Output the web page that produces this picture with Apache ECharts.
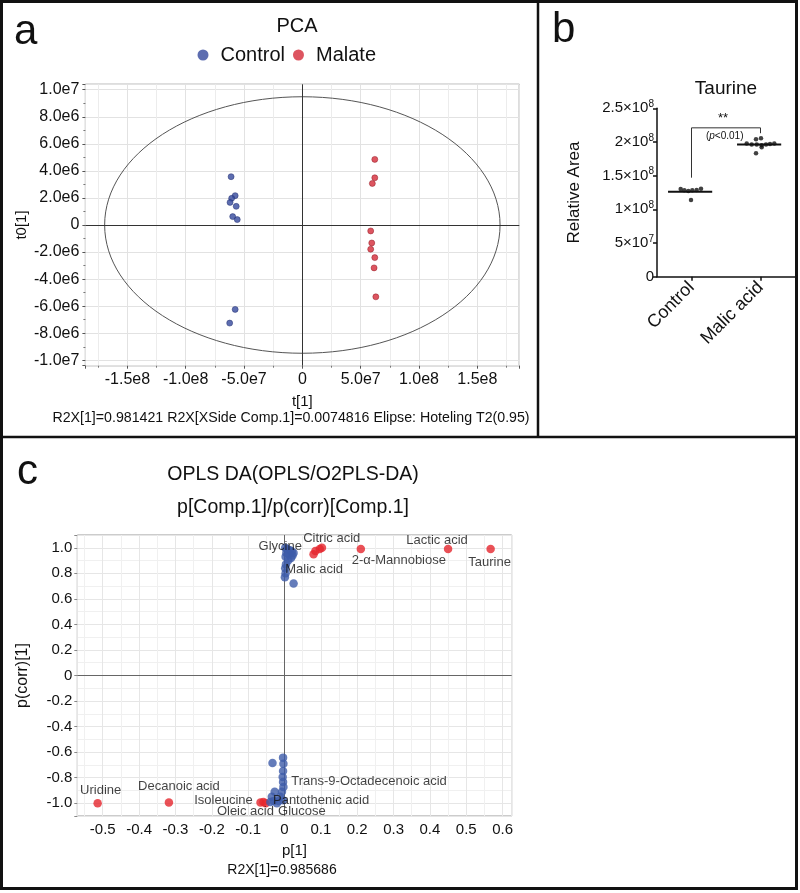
<!DOCTYPE html>
<html>
<head>
<meta charset="utf-8">
<script src="https://cdn.jsdelivr.net/npm/echarts@6/dist/echarts.min.js"></script>
<style>html,body{margin:0;padding:0;background:#fff}#chart{width:800px;height:893px}</style>
</head>
<body>
<div id="chart"></div>
<script>
// ---------- Panel a: PCA scores ----------
const pcaControlX = [-6.11e7, -5.76e7, -6.06e7, -6.20e7, -5.67e7, -5.97e7, -5.58e7, -5.76e7, -6.23e7];
const pcaControlY = [3.57e6, 2.17e6, 1.97e6, 1.67e6, 1.38e6, 0.62e6, 0.40e6, -6.24e6, -7.25e6];
const pcaMalateX = [6.21e7, 6.21e7, 6.00e7, 5.86e7, 5.95e7, 5.86e7, 6.21e7, 6.15e7, 6.30e7];
const pcaMalateY = [4.85e6, 3.49e6, 3.07e6, -0.44e6, -1.33e6, -1.79e6, -2.41e6, -3.17e6, -5.31e6];
// Hotelling T2 ellipse: centre x, centre y, semi-axis x, semi-axis y
const hotellingEllipse = [0, 0, 1.695e8, 9.48e6];

// ---------- Panel b: Taurine ----------
const taurineGroups = ['Control', 'Malic acid'];
const taurineControl = [1.303e8, 1.283e8, 1.273e8, 1.283e8, 1.288e8, 1.307e8, 1.139e8];
const taurineControlJitter = [-0.157, -0.104, -0.046, 0.012, 0.075, 0.138, -0.007];
const taurineMalic = [2.041e8, 2.056e8, 1.976e8, 1.961e8, 1.961e8, 1.952e8, 1.961e8, 1.971e8, 1.976e8, 1.922e8, 1.833e8];
const taurineMalicJitter = [-0.065, 0.007, -0.200, -0.128, -0.055, 0.017, 0.080, 0.138, 0.200, 0.017, -0.065];
const taurineMeans = [1.262e8, 1.962e8];
const bracketX = [0, 0, 1, 1];
const bracketY = [1.47e8, 2.21e8, 2.21e8, 2.13e8];

// ---------- Panel c: OPLS-DA S-plot ----------
const oplsRedX = [0.080, 0.085, 0.097, 0.103, 0.210, 0.450, 0.567, -0.514, -0.318, -0.066, -0.058, -0.052];
const oplsRedY = [0.950, 0.975, 0.990, 1.000, 0.990, 0.990, 0.990, -1.000, -0.995, -0.995, -0.990, -1.000];
const oplsRedNames = ['', '', 'Citric acid', '', '2-α-Mannobiose', 'Lactic acid', 'Taurine', 'Uridine', 'Decanoic acid', 'Isoleucine', 'Oleic acid', ''];
const oplsBlueX = [0.002, 0.008, 0.015, 0.020, 0.005, 0.012, 0.022, 0.018, 0.003, 0.010, 0.004, 0.002, 0.003, 0.001, 0.025, 0.025,
  -0.033, -0.004, -0.003, -0.004, -0.005, -0.004, -0.003, -0.007, -0.012, -0.027, -0.035, -0.030, -0.016, -0.004, -0.021, -0.039];
const oplsBlueY = [1.000, 0.990, 0.980, 0.970, 0.960, 0.950, 0.940, 0.920, 0.930, 0.900, 0.870, 0.840, 0.800, 0.770, 0.720, 0.960,
  -0.685, -0.643, -0.690, -0.748, -0.794, -0.833, -0.873, -0.911, -0.950, -0.911, -0.950, -0.982, -0.982, -0.977, -1.000, -0.990];
const oplsBlueNames = ['Glycine', '', '', '', '', '', '', '', '', 'Malic acid', '', '', '', '', '', '',
  '', '', '', '', '', 'Trans-9-Octadecenoic acid', '', '', '', '', '', '', '', 'Pantothenic acid', 'Glucose', ''];

// label placement (pixel offsets from the point, style only)
const labelOffset = {
  'Glycine': [-5, -1], 'Malic acid': [26, 9], 'Citric acid': [12, -11], '2-α-Mannobiose': [38, 11],
  'Lactic acid': [-11, -9], 'Taurine': [-1, 13], 'Uridine': [3, -13], 'Decanoic acid': [10, -16],
  'Isoleucine': [-37, -2], 'Oleic acid': [-18, 9], 'Pantothenic acid': [38, 0], 'Glucose': [25, 8],
  'Trans-9-Octadecenoic acid': [86, 0]
};

const FONT = '"Liberation Sans", Arial, Helvetica, sans-serif';
const INK = '#111';
const BLUE_A = '#34489c', RED_A = '#d42a38';
const BLUE_C = '#3d5ba9', RED_C = '#e5262d';

function sciFmt(step) {
  return function (v) {
    if (Math.abs(v / step - Math.round(v / step)) > 1e-6) return '';
    if (Math.abs(v) < step * 1e-6) return '0';
    const e = Math.floor(Math.log10(Math.abs(v)) + 1e-9);
    return (v / Math.pow(10, e)).toFixed(1) + 'e' + e;
  };
}
function decFmt(step) {
  return function (v) {
    if (Math.abs(v / step - Math.round(v / step)) > 1e-6) return '';
    if (Math.abs(v) < 1e-9) return '0';
    return v.toFixed(1);
  };
}
function powFmt(v) {
  if (v === 0) return '{n|0}';
  const e = Math.floor(Math.log10(v) + 1e-9);
  const m = Math.round(v / Math.pow(10, e) * 100) / 100;
  return '{n|' + m + '×10}{s|' + e + '}';
}
function zip(xs, ys) { return xs.map((x, i) => [x, ys[i]]); }
function pointItem(x, y, name) {
  const it = { value: [x, y] };
  if (name) {
    it.name = name;
    it.label = { show: true, formatter: name, position: 'inside', offset: labelOffset[name],
      fontSize: 13, color: INK, fontFamily: FONT, textBorderWidth: 0 };
  }
  return it;
}
function txt(x, y, text, size, extra) {
  return { type: 'text', x: x, y: y, silent: true, z: 100,
    style: Object.assign({ text: text, fontSize: size, fontFamily: FONT, fill: INK, align: 'center', verticalAlign: 'middle' }, extra || {}) };
}

const chart = echarts.init(document.getElementById('chart'), null, { renderer: 'canvas' });

const option = {
  animation: false,
  backgroundColor: '#fff',
  textStyle: { fontFamily: FONT, color: INK },
  legend: {
    data: ['Control', 'Malate'], left: 192.5, top: 40, itemWidth: 25, itemHeight: 11, itemGap: 8,
    icon: 'circle', selectedMode: false, textStyle: { fontSize: 20, color: INK, fontFamily: FONT },
    itemStyle: { borderWidth: 0 }
  },
  grid: [
    { left: 85.4, top: 84.3, width: 433.9, height: 281.4, show: true, borderColor: '#555', borderWidth: 1, backgroundColor: 'transparent' },
    { left: 657, top: 108.3, width: 138, height: 168.4 },
    { left: 77.3, top: 535, width: 434.4, height: 281, show: true, borderColor: '#999', borderWidth: 1, backgroundColor: 'transparent' }
  ],
  xAxis: [
    { type: 'value', gridIndex: 0, min: -1.86e8, max: 1.86e8, splitNumber: 7,
      name: 't[1]', nameLocation: 'middle', nameGap: 29, nameMoveOverlap: false, nameTextStyle: { fontSize: 15, color: INK },
      axisLine: { show: false, onZero: false }, axisTick: { show: true, length: 3, lineStyle: { color: '#555' } },
      minorTick: { show: true, splitNumber: 2, length: 2, lineStyle: { color: '#777' } },
      axisLabel: { fontSize: 16, color: INK, margin: 6, formatter: sciFmt(5e7) },
      splitLine: { show: true, lineStyle: { color: '#e2e2e2' } },
      minorSplitLine: { show: true, lineStyle: { color: '#ececec' } } },
    { type: 'category', gridIndex: 1, data: taurineGroups,
      axisLine: { show: true, onZero: false, lineStyle: { color: INK, width: 1.5 } },
      axisTick: { show: true, alignWithLabel: true, length: 4, lineStyle: { color: INK, width: 1.5 } },
      axisLabel: { rotate: 45, fontSize: 18, color: INK, margin: 8 },
      splitLine: { show: false } },
    { type: 'value', gridIndex: 1, min: -0.5, max: 1.5, show: false },
    { type: 'value', gridIndex: 2, min: -0.57, max: 0.625, splitNumber: 12,
      name: 'p[1]', nameLocation: 'middle', nameGap: 27, nameMoveOverlap: false, nameTextStyle: { fontSize: 15, color: INK },
      axisLine: { show: false, onZero: false }, axisTick: { show: false },
      minorTick: { show: false, splitNumber: 2 },
      axisLabel: { fontSize: 15, color: INK, margin: 6, formatter: decFmt(0.1) },
      splitLine: { show: true, lineStyle: { color: '#e6e6e6' } },
      minorSplitLine: { show: true, lineStyle: { color: '#f0f0f0' } } }
  ],
  yAxis: [
    { type: 'value', gridIndex: 0, min: -1.04e7, max: 1.04e7, splitNumber: 10,
      name: 't0[1]', nameLocation: 'middle', nameGap: 56, nameMoveOverlap: false, nameTextStyle: { fontSize: 15, color: INK },
      axisLine: { show: false, onZero: false }, axisTick: { show: true, length: 3, lineStyle: { color: '#555' } },
      minorTick: { show: true, splitNumber: 2, length: 2, lineStyle: { color: '#777' } },
      axisLabel: { fontSize: 16, color: INK, margin: 6, formatter: sciFmt(2e6) },
      splitLine: { show: true, lineStyle: { color: '#e2e2e2' } } },
    { type: 'value', gridIndex: 1, min: 0, max: 2.5e8, interval: 5e7,
      name: 'Relative Area', nameLocation: 'middle', nameGap: 74, nameMoveOverlap: false, nameTextStyle: { fontSize: 17, color: INK },
      axisLine: { show: true, onZero: false, lineStyle: { color: INK, width: 1.5 } },
      axisTick: { show: true, length: 4, lineStyle: { color: INK, width: 1.5 } },
      axisLabel: { margin: 3, formatter: powFmt,
        rich: { n: { fontSize: 15, color: INK, fontFamily: FONT, lineHeight: 18 },
                s: { fontSize: 10, color: INK, fontFamily: FONT, verticalAlign: 'top' } } },
      splitLine: { show: false } },
    { type: 'value', gridIndex: 2, min: -1.1, max: 1.1, splitNumber: 11,
      name: 'p(corr)[1]', nameLocation: 'middle', nameGap: 47, nameMoveOverlap: false, nameTextStyle: { fontSize: 16, color: INK },
      axisLine: { show: false, onZero: false }, axisTick: { show: true, length: 3, lineStyle: { color: '#888' } },
      minorTick: { show: false, splitNumber: 2 },
      axisLabel: { fontSize: 15, color: INK, margin: 5, formatter: decFmt(0.2) },
      splitLine: { show: true, lineStyle: { color: '#e6e6e6' } },
      minorSplitLine: { show: true, lineStyle: { color: '#f0f0f0' } } }
  ],
  series: [
    // panel a
    { name: 'Control', type: 'scatter', xAxisIndex: 0, yAxisIndex: 0, data: zip(pcaControlX, pcaControlY),
      symbolSize: 6, itemStyle: { color: BLUE_A, borderColor: '#1f2c6e', borderWidth: 0.6 }, z: 5,
      markLine: { silent: true, symbol: ['none', 'none'], label: { show: false },
        lineStyle: { color: '#333', width: 1, type: 'solid' }, data: [{ xAxis: 0 }, { yAxis: 0 }] } },
    { name: 'Malate', type: 'scatter', xAxisIndex: 0, yAxisIndex: 0, data: zip(pcaMalateX, pcaMalateY),
      symbolSize: 6, itemStyle: { color: RED_A, borderColor: '#8e1520', borderWidth: 0.6 }, z: 5 },
    { name: 'Hotelling T2', type: 'custom', xAxisIndex: 0, yAxisIndex: 0, data: [hotellingEllipse], z: 3,
      renderItem: function (params, api) {
        const cx = api.value(0), cy = api.value(1), ax = api.value(2), by = api.value(3);
        const c = api.coord([cx, cy]);
        const rx = api.coord([cx + ax, cy])[0] - c[0];
        const ry = c[1] - api.coord([cx, cy + by])[1];
        return { type: 'ellipse', shape: { cx: c[0], cy: c[1], rx: rx, ry: ry },
          style: { fill: null, stroke: '#555', lineWidth: 1 } };
      } },
    // panel b
    { name: 'Taurine points', type: 'scatter', xAxisIndex: 2, yAxisIndex: 1,
      data: taurineControl.map((v, i) => [0 + taurineControlJitter[i], v])
        .concat(taurineMalic.map((v, i) => [1 + taurineMalicJitter[i], v])),
      symbolSize: 4.5, itemStyle: { color: INK }, z: 6 },
    { name: 'Taurine mean', type: 'custom', xAxisIndex: 2, yAxisIndex: 1,
      data: taurineMeans.map((m, i) => [i, m]), z: 5,
      renderItem: function (params, api) {
        const x = api.value(0), y = api.value(1);
        const p1 = api.coord([x - 0.34, y]), p2 = api.coord([x + 0.30, y]);
        return { type: 'line', shape: { x1: p1[0], y1: p1[1], x2: p2[0], y2: p2[1] },
          style: { stroke: INK, lineWidth: 2 } };
      } },
    { name: 'Significance', type: 'line', xAxisIndex: 2, yAxisIndex: 1, data: zip(bracketX, bracketY),
      symbol: 'none', lineStyle: { color: '#333', width: 1 }, z: 4 },
    // panel c
    { name: 'OPLS red', type: 'scatter', xAxisIndex: 3, yAxisIndex: 2,
      data: oplsRedX.map((x, i) => pointItem(x, oplsRedY[i], oplsRedNames[i])),
      symbolSize: 8.5, itemStyle: { color: RED_C }, z: 5,
      markLine: { silent: true, symbol: ['none', 'none'], label: { show: false },
        lineStyle: { color: '#666', width: 1, type: 'solid' }, data: [{ xAxis: 0 }, { yAxis: 0 }] } },
    { name: 'OPLS blue', type: 'scatter', xAxisIndex: 3, yAxisIndex: 2,
      data: oplsBlueX.map((x, i) => pointItem(x, oplsBlueY[i], oplsBlueNames[i])),
      symbolSize: 8.5, itemStyle: { color: BLUE_C }, z: 5 }
  ],
  graphic: [
    { type: 'rect', silent: true, z: 100, shape: { x: 1.5, y: 1.5, width: 795, height: 887 }, style: { fill: null, stroke: INK, lineWidth: 3 } },
    { type: 'line', silent: true, z: 100, shape: { x1: 538, y1: 1.5, x2: 538, y2: 437 }, style: { stroke: INK, lineWidth: 2.5 } },
    { type: 'line', silent: true, z: 100, shape: { x1: 1.5, y1: 437, x2: 796.5, y2: 437 }, style: { stroke: INK, lineWidth: 2.5 } },
    txt(14, 32, 'a', 42, { align: 'left' }),
    txt(552, 30, 'b', 42, { align: 'left' }),
    txt(17, 472, 'c', 42, { align: 'left' }),
    txt(297, 26, 'PCA', 20),
    txt(726, 89, 'Taurine', 19),
    txt(293, 475, 'OPLS DA(OPLS/O2PLS-DA)', 19.5),
    txt(293, 507.5, 'p[Comp.1]/p(corr)[Comp.1]', 19.5),
    txt(291, 418, 'R2X[1]=0.981421 R2X[XSide Comp.1]=0.0074816 Elipse: Hoteling T2(0.95)', 14.2),
    txt(282, 870, 'R2X[1]=0.985686', 14),
    txt(723, 118, '**', 13),
    { type: 'text', x: 724.7, y: 136.7, silent: true, z: 100,
      style: { text: '{n|(}{i|p}{n|<0.01)}', align: 'center', verticalAlign: 'middle',
        rich: { n: { fontSize: 10, fontFamily: FONT, fill: INK }, i: { fontSize: 10, fontFamily: FONT, fontStyle: 'italic', fill: INK } } } }
  ]
};
chart.setOption(option);
</script>
</body>
</html>
